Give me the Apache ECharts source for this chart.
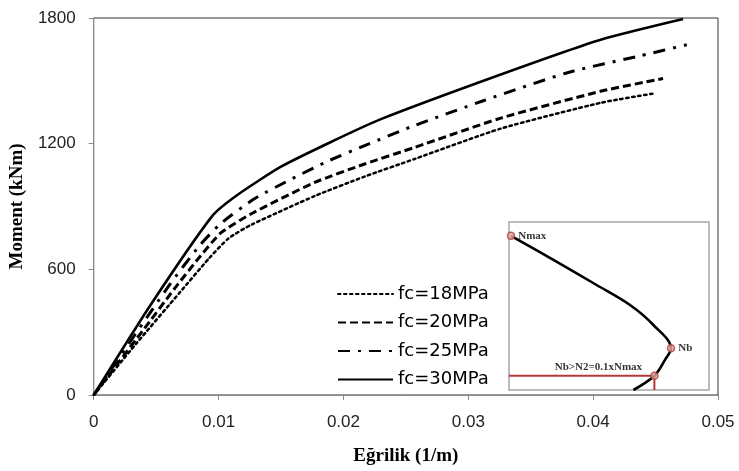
<!DOCTYPE html>
<html><head><meta charset="utf-8">
<script src="https://cdn.jsdelivr.net/npm/echarts@6/dist/echarts.min.js"></script>
<style>html,body{margin:0;padding:0;background:#fff}#c{width:739px;height:471px}</style>
</head><body><div id="c"></div>
<script>
// Main chart data: curvature (1/m) vs moment (kNm)
var seriesNames = ['fc=18MPa', 'fc=20MPa', 'fc=25MPa', 'fc=30MPa'];
var curv18 = [0, 0.0034, 0.0069, 0.0092, 0.0108, 0.0127, 0.0177, 0.0217, 0.0257, 0.0326, 0.0406, 0.0449];
var mom18  = [0, 245, 490, 650, 748, 815, 950, 1043, 1127, 1272, 1395, 1440];
var curv20 = [0, 0.0039, 0.0065, 0.0085, 0.0102, 0.0127, 0.0177, 0.0217, 0.0257, 0.0326, 0.0406, 0.0456];
var mom20  = [0, 305, 510, 660, 775, 868, 1015, 1103, 1182, 1322, 1450, 1511];
var curv25 = [0, 0.0060, 0.0085, 0.0102, 0.0129, 0.0159, 0.0188, 0.0220, 0.0254, 0.0312, 0.0380, 0.0438, 0.0475];
var mom25  = [0, 520, 715, 820, 938, 1033, 1118, 1198, 1280, 1405, 1540, 1620, 1672];
var curv30 = [0, 0.0045, 0.0095, 0.0115, 0.0150, 0.0190, 0.0230, 0.0326, 0.0406, 0.0472];
var mom30  = [0, 425, 855, 955, 1090, 1208, 1317, 1530, 1696, 1795];
var xTicks = [0, 0.01, 0.02, 0.03, 0.04, 0.05];
var yTicks = [0, 600, 1200, 1800];

// Inset interaction diagram (normalised units 0-100)
var insetM = [1, 22.2, 43.8, 60.5, 72.2, 81, 78, 72.7, 62.2];
var insetN = [91.8, 77.4, 62.5, 50.6, 38.7, 24.8, 17.9, 8.5, 0];
var limitM = [0, 72.7, 72.7];
var limitN = [8.5, 8.5, 0];
var keyPointNames = ['Nmax', 'Nb', ''];
var keyPointM = [1, 81, 72.7];
var keyPointN = [91.8, 24.8, 8.5];
var limitLabel = 'Nb>N2=0.1xNmax';
var limitLabelM = 44.7;

function pairs(xs, ys) { return xs.map(function (x, i) { return [x, ys[i]]; }); }

var styles = [
  {type: [2.5, 3.5], width: 2.5, cap: 'round'},
  {type: [8, 4], width: 3},
  {type: [12, 8, 3, 8], width: 3},
  {type: 'solid', width: 2.6}
];
var dataSets = [pairs(curv18, mom18), pairs(curv20, mom20), pairs(curv25, mom25), pairs(curv30, mom30)];

var series = seriesNames.map(function (n, i) {
  return {
    name: n, type: 'line', xAxisIndex: 0, yAxisIndex: 0,
    data: dataSets[i], symbol: 'none', smooth: 0.2, z: 3 + i,
    lineStyle: {color: '#000', width: styles[i].width, type: styles[i].type, cap: styles[i].cap || 'butt'},
    itemStyle: {color: '#000'}
  };
});

var lblFont = {fontFamily: 'Liberation Serif', fontWeight: 'bold', fontSize: 11, color: '#000'};
series.push({
  type: 'line', xAxisIndex: 1, yAxisIndex: 1, data: pairs(limitM, limitN),
  symbol: 'none', lineStyle: {color: '#b23a36', width: 2}, z: 4, silent: true
});
series.push({
  type: 'line', xAxisIndex: 1, yAxisIndex: 1, data: pairs(insetM, insetN),
  symbol: 'none', smooth: 0.35, lineStyle: {color: '#000', width: 2.6}, z: 5, silent: true
});
series.push({
  type: 'scatter', xAxisIndex: 1, yAxisIndex: 1,
  data: keyPointM.map(function (m, i) { return {value: [m, keyPointN[i]], name: keyPointNames[i]}; }),
  symbol: 'circle', symbolSize: 7, z: 6, silent: true,
  itemStyle: {color: '#e2a9a6', borderColor: '#b23a36', borderWidth: 1.5},
  label: {show: true, position: 'right', distance: 3, formatter: '{b}', textStyle: lblFont}
});
series.push({
  type: 'scatter', xAxisIndex: 1, yAxisIndex: 1,
  data: [[limitLabelM, limitN[0]]], symbolSize: 0, z: 6, silent: true,
  label: {show: true, position: 'top', distance: 3, formatter: limitLabel, textStyle: lblFont}
});

var chart = echarts.init(document.getElementById('c'), null, {renderer: 'canvas'});
chart.setOption({
  animation: false,
  backgroundColor: '#fff',
  grid: [
    {left: 91, right: 21, top: 18, bottom: 73, show: true, borderColor: '#333', borderWidth: 1},
    {left: 509, top: 222, width: 200, height: 168, show: true, backgroundColor: '#fff', borderColor: '#a6a6a6', borderWidth: 1.5, z: 2}
  ],
  legend: {
    data: seriesNames, orient: 'vertical', left: 337, top: 285, padding: 0,
    itemWidth: 55, itemHeight: 17, itemGap: 10.5, itemTextGap: 4,
    itemStyle: {color: 'rgba(0,0,0,0)', borderColor: 'rgba(0,0,0,0)', borderWidth: 0},
    textStyle: {fontFamily: 'DejaVu Sans', fontSize: 18, color: '#000'}
  },
  xAxis: [
    {
      type: 'value', gridIndex: 0, min: xTicks[0], max: xTicks[xTicks.length - 1], interval: xTicks[1] - xTicks[0],
      name: 'Eğrilik (1/m)', nameLocation: 'middle', nameGap: 52,
      nameTextStyle: {fontFamily: 'Liberation Serif', fontWeight: 'bold', fontSize: 19, color: '#000'},
      axisLine: {show: true, lineStyle: {color: '#8c8c8c', width: 1}},
      axisTick: {show: true, inside: false, length: 5, lineStyle: {color: '#8c8c8c'}},
      axisLabel: {margin: 19, fontFamily: 'Liberation Sans', fontSize: 17, color: '#222',
        formatter: function (v) { return v === 0 ? '0' : String(+v.toFixed(2)); }},
      splitLine: {show: false}
    },
    {type: 'value', gridIndex: 1, min: 0, max: 100, show: false}
  ],
  yAxis: [
    {
      type: 'value', gridIndex: 0, min: yTicks[0], max: yTicks[yTicks.length - 1], interval: yTicks[1] - yTicks[0],
      name: 'Moment (kNm)', nameLocation: 'middle', nameGap: 54, nameRotate: 90,
      nameTextStyle: {fontFamily: 'Liberation Serif', fontWeight: 'bold', fontSize: 19, color: '#000'},
      axisLine: {show: true, lineStyle: {color: '#8c8c8c', width: 1}},
      axisTick: {show: true, inside: false, length: 5, lineStyle: {color: '#8c8c8c'}},
      axisLabel: {margin: 18, fontFamily: 'Liberation Sans', fontSize: 17, color: '#222',
        formatter: function (v) { return String(v); }},
      splitLine: {show: false}
    },
    {type: 'value', gridIndex: 1, min: 0, max: 100, show: false}
  ],
  series: series
});
</script></body></html>
